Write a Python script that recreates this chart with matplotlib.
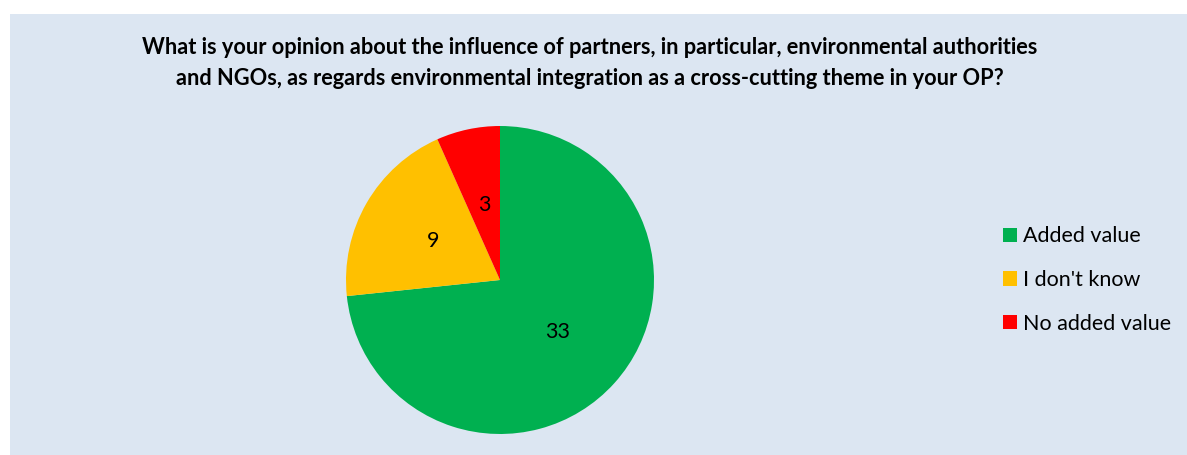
import matplotlib.pyplot as plt
from matplotlib.patches import Rectangle, Patch

plt.rcParams['font.family'] = ['Lato', 'DejaVu Sans']

labels = ["Added value", "I don't know", "No added value"]
counts = [33, 9, 3]
colors = ["#00b050", "#ffc000", "#ff0000"]
title = ("What is your opinion about the influence of partners, in particular, environmental authorities\n"
         "and NGOs, as regards environmental integration as a cross-cutting theme in your OP?")

W, H = 1187, 455
fig = plt.figure(figsize=(W / 100, H / 100), dpi=100)
fig.patch.set_facecolor("white")

# light blue chart area
fig.patches.append(Rectangle((10 / W, 0), (W - 10) / W, (H - 14) / H,
                             transform=fig.transFigure, facecolor="#dce6f2",
                             edgecolor="none", zorder=-5))

fig.text(590 / W, 1 - 63 / H, title, ha="center", va="center",
         fontsize=15.7, fontweight="bold", linespacing=1.6)

# pie centred at (500, 280) px with radius 154 px
cx, cy, r = 500, 280, 154
ax = fig.add_axes([(cx - r) / W, 1 - (cy + r) / H, 2 * r / W, 2 * r / H])
total = sum(counts)
ax.pie(counts, colors=colors, startangle=90, counterclock=False,
       autopct=lambda p: f"{round(p * total / 100):d}", pctdistance=0.5,
       textprops={"fontsize": 15.5, "color": "black"},
       wedgeprops={"linewidth": 0})
ax.set_xlim(-1, 1)
ax.set_ylim(-1, 1)
ax.set_facecolor("none")
ax.axis("off")

handles = [Patch(facecolor=c, edgecolor="none") for c in colors]
fig.legend(handles, labels, loc="center left",
           bbox_to_anchor=(984 / W, 1 - 280 / H), frameon=False,
           fontsize=15.5, handlelength=0.65, handleheight=0.65,
           handletextpad=0.25, labelspacing=1.1)

fig.savefig("out.png", dpi=100)
